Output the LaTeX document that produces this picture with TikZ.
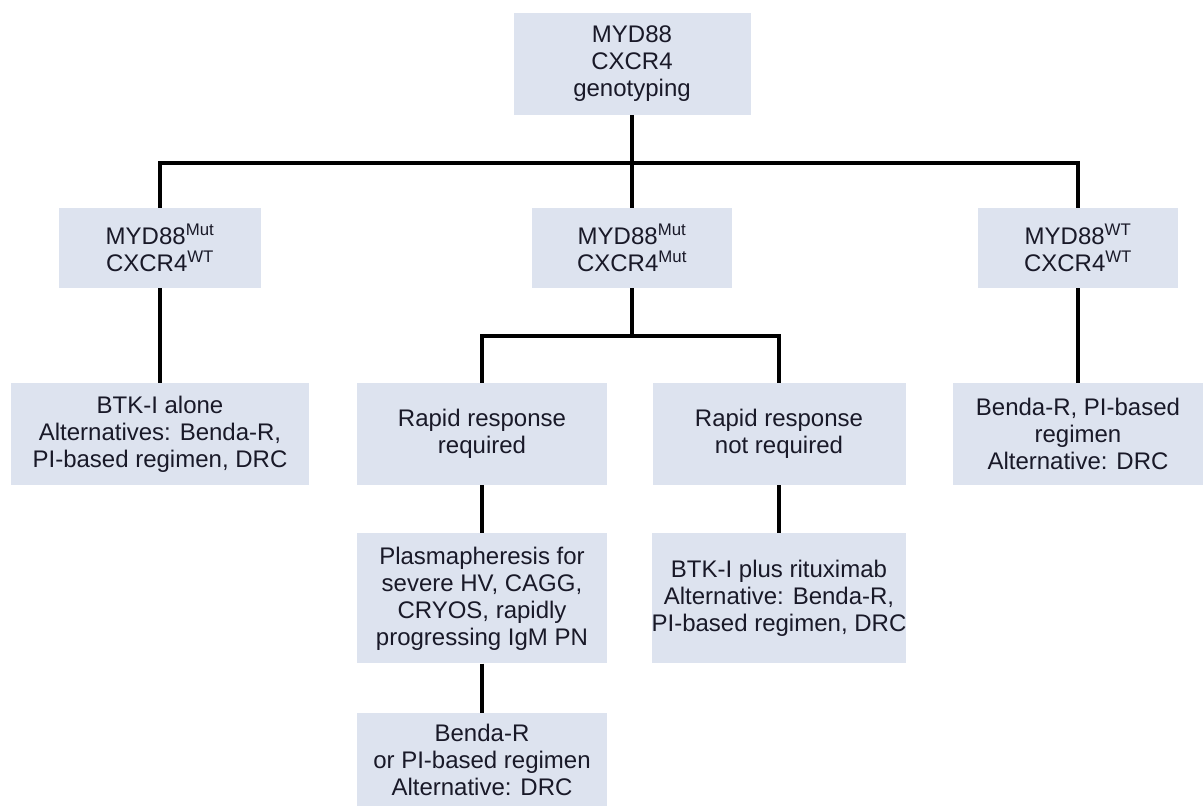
\documentclass[tikz,border=0pt]{standalone}
\usepackage{fontspec}
\setmainfont{Liberation Sans}
\usepackage{tikz}
\usetikzlibrary{positioning}
\usepackage{xcolor}
\definecolor{boxfill}{RGB}{221,227,239}
\definecolor{boxtext}{RGB}{25,25,40}

\begin{document}
\begin{tikzpicture}[
    x=1pt, y=1pt,
    node distance=48pt and 40pt,
    every node/.style={
        rectangle,
        align=center,
        fill=boxfill,
        text=boxtext,
        inner sep=0pt,
        font=\fontsize{24}{27}\selectfont
    },
    link/.style={line width=4pt, black}
]
\useasboundingbox (0,0) rectangle (1203,806);

% ---------- TOP
\node (geno) [minimum width=237pt, minimum height=102pt] at (632,742) {MYD88\\CXCR4\\genotyping};

% ---------- SECOND ROW (GENOTYPES)
\node (mutwt) [minimum width=202pt, minimum height=80pt] at (160,558) {MYD88\textsuperscript{Mut}\\CXCR4\textsuperscript{WT}};
\node (mutmut) [minimum width=200pt, minimum height=80pt] at (632,558) {MYD88\textsuperscript{Mut}\\CXCR4\textsuperscript{Mut}};
\node (wtwt) [minimum width=200pt, minimum height=80pt] at (1078,558) {MYD88\textsuperscript{WT}\\CXCR4\textsuperscript{WT}};

% ---------- THIRD ROW
\node (btkalone) [minimum width=298pt, minimum height=102pt, below=95pt of mutwt] {BTK-I alone\\Alternatives: Benda-R,\\PI-based regimen, DRC};
\node (rapidreq) [minimum width=250pt, minimum height=102pt] at (482,372) {Rapid response\\required};
\node (rapidnot) [minimum width=253pt, minimum height=102pt] at (779,372) {Rapid response\\not required};
\node (bendapi) [minimum width=250pt, minimum height=102pt, below=95pt of wtwt] {Benda-R, PI-based\\regimen\\Alternative: DRC};

% ---------- FOURTH / FIFTH ROW
\node (plasma) [minimum width=250pt, minimum height=130pt, below=of rapidreq] {Plasmapheresis for\\severe HV, CAGG,\\CRYOS, rapidly\\progressing IgM PN};
\node (btkritux) [minimum width=253pt, minimum height=130pt, below=of rapidnot] {BTK-I plus rituximab\\Alternative: Benda-R,\\PI-based regimen, DRC};
\node (bendaor) [minimum width=250pt, minimum height=94pt, below=49pt of plasma] {Benda-R\\or PI-based regimen\\Alternative: DRC};

% ---------- CONNECTORS
\draw[link] (geno.south) -- ++(0,-48) -| (mutwt.north);
\draw[link] (geno.south) -- (mutmut.north);
\draw[link] (geno.south) -- ++(0,-48) -| (wtwt.north);

\draw[link] (mutwt) -- (btkalone);
\draw[link] (wtwt) -- (bendapi);

\draw[link] (mutmut.south) -- ++(0,-48) -| (rapidreq.north);
\draw[link] (mutmut.south) -- ++(0,-48) -| (rapidnot.north);

\draw[link] (rapidreq) -- (plasma);
\draw[link] (plasma) -- (bendaor);
\draw[link] (rapidnot) -- (btkritux);

\end{tikzpicture}
\end{document}
